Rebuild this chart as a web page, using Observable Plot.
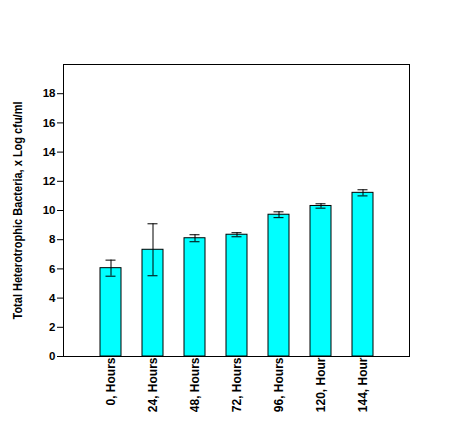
<!DOCTYPE html>
<html><head><meta charset="utf-8">
<script src="https://cdn.jsdelivr.net/npm/d3@7"></script>
<script src="https://cdn.jsdelivr.net/npm/@observablehq/plot@0.6"></script>
<style>
body{margin:0;background:#fff;}
svg{font-family:"Liberation Sans",Arial,sans-serif;}
</style></head>
<body><div id="chart"></div>
<script>
const categories = ["0, Hours","24, Hours","48, Hours","72, Hours","96, Hours","120, Hour","144, Hour"];
const means = [6.05, 7.31, 8.1, 8.34, 9.71, 10.31, 11.21];
const errors = [0.55, 1.78, 0.24, 0.14, 0.2, 0.15, 0.21];
const yTicks = [0,2,4,6,8,10,12,14,16,18];
const yLabel = "Total Heterotrophic Bacteria, x Log cfu/ml";

const data = categories.map((c,i)=>({cat:c, v:means[i], lo:means[i]-errors[i], hi:means[i]+errors[i]}));

const chart = Plot.plot({
  width:473, height:422,
  marginLeft:63, marginRight:64, marginTop:64, marginBottom:66,
  style:{fontFamily:"'Liberation Sans',Arial,sans-serif", fontWeight:"bold", fontSize:"11px", color:"black", background:"white"},
  x:{domain:categories, paddingInner:0.5, paddingOuter:0.775, label:null},
  y:{domain:[0,20], label:null},
  marks:[
    Plot.barY(data,{x:"cat", y:"v", fill:"#00FFFF", stroke:"black", strokeWidth:1}),
    Plot.ruleX(data,{x:"cat", y1:"lo", y2:"hi", stroke:"black", strokeWidth:1}),
    Plot.tickY(data,{x:"cat", y:"hi", stroke:"black", insetLeft:5.5, insetRight:5.5}),
    Plot.tickY(data,{x:"cat", y:"lo", stroke:"black", insetLeft:5.5, insetRight:5.5}),
    Plot.axisY({ticks:yTicks, tickSize:6, tickPadding:2, label:null, fontWeight:"bold", fontSize:11.5, strokeWidth:1}),
    Plot.axisX({tickRotate:-90, tickSize:0, tickPadding:1, label:null, fontWeight:"bold", fontSize:12}),
    Plot.frame({stroke:"black", strokeWidth:1}),
    Plot.text([yLabel],{text:d=>d, frameAnchor:"left", textAnchor:"middle", dx:-45, rotate:-90, fontWeight:"bold", fontSize:12, fill:"black", className:"ylab"})
  ]
});
const t = chart.querySelector(".ylab text");
if (t) { t.setAttribute("textLength","218"); t.setAttribute("lengthAdjust","spacingAndGlyphs"); }
document.getElementById("chart").appendChild(chart);
</script></body></html>
